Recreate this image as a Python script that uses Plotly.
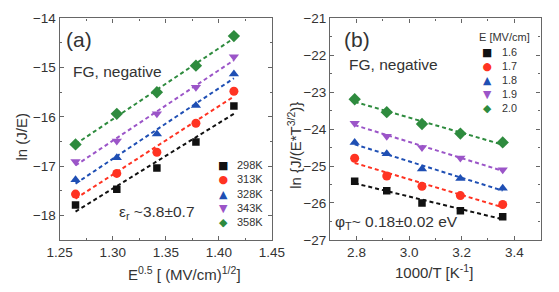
import numpy as np
import plotly.graph_objects as go

# ---------------- data ----------------
# Panel (a): ln(J/E) vs E^0.5
e_sqrt = [1.2649, 1.3038, 1.3416, 1.3784, 1.4142]
temps = ["298K", "313K", "328K", "343K", "358K"]
lnJE = {
    "298K": [-17.79, -17.47, -17.04, -16.51, -15.78],
    "313K": [-17.57, -17.15, -16.72, -16.13, -15.48],
    "328K": [-17.28, -16.83, -16.35, -15.77, -15.13],
    "343K": [-16.91, -16.49, -15.94, -15.40, -14.78],
    "358K": [-16.56, -15.94, -15.50, -14.96, -14.36],
}

# Panel (b): ln{J/(E*T^3/2)} vs 1000/T
inv_t = [2.793, 2.915, 3.049, 3.195, 3.356]
fields = ["1.6", "1.7", "1.8", "1.9", "2.0"]
lnJET = {
    "1.6": [-25.41, -25.67, -26.00, -26.21, -26.37],
    "1.7": [-24.79, -25.27, -25.55, -25.80, -26.04],
    "1.8": [-24.36, -24.67, -25.08, -25.34, -25.60],
    "1.9": [-23.84, -24.19, -24.50, -24.78, -25.10],
    "2.0": [-23.19, -23.54, -23.86, -24.12, -24.36],
}

colors = ["#111111", "#ff3322", "#1f4fb4", "#9b55c8", "#2e8b3e"]
symbols = ["square", "circle", "triangle-up", "triangle-down", "diamond"]
sizes = [7.5, 9, 9, 9, 9.5]
glyphs = ["■", "●", "▲", "▼", "◆"]

W, H = 559, 292
FONT = "Liberation Sans, Arial, sans-serif"
TXT = "#333333"


def px(x):
    return x / W


def py(y):
    return 1 - y / H


fig = go.Figure()

# panel (a)
for i, t in enumerate(temps):
    ys = lnJE[t]
    k, b = np.polyfit(e_sqrt, ys, 1)
    xf = [e_sqrt[0], e_sqrt[-1]]
    fig.add_trace(go.Scatter(
        x=xf, y=[k * v + b for v in xf], mode="lines",
        line=dict(color=colors[i], width=2, dash="4px,3px"),
        showlegend=False, hoverinfo="skip", xaxis="x", yaxis="y"))
for i, t in enumerate(temps):
    fig.add_trace(go.Scatter(
        x=e_sqrt, y=lnJE[t], mode="markers", name=t, showlegend=False,
        marker=dict(symbol=symbols[i], color=colors[i], size=sizes[i], line=dict(width=0)),
        xaxis="x", yaxis="y"))

# panel (b)
for i, f in enumerate(fields):
    ys = lnJET[f]
    k, b = np.polyfit(inv_t, ys, 1)
    xf = [inv_t[0], inv_t[-1]]
    fig.add_trace(go.Scatter(
        x=xf, y=[k * v + b for v in xf], mode="lines",
        line=dict(color=colors[i], width=2, dash="4px,3px"),
        showlegend=False, hoverinfo="skip", xaxis="x2", yaxis="y2"))
for i, f in enumerate(fields):
    fig.add_trace(go.Scatter(
        x=inv_t, y=lnJET[f], mode="markers", name=f, showlegend=False,
        marker=dict(symbol=symbols[i], color=colors[i], size=sizes[i], line=dict(width=0)),
        xaxis="x2", yaxis="y2"))

axis_common = dict(
    showgrid=False, zeroline=False, showline=True, linecolor="#666666", linewidth=1.3,
    mirror="allticks", ticks="inside", ticklen=4, tickwidth=1, tickcolor="#666666",
    tickfont=dict(family=FONT, size=13.5, color=TXT),
)

ya_dom = [py(245.5), py(12)]

fig.update_layout(
    width=W, height=H,
    margin=dict(l=0, r=0, t=0, b=0),
    paper_bgcolor="white", plot_bgcolor="white",
    font=dict(family=FONT, color=TXT),
    showlegend=False,
    xaxis=dict(axis_common, domain=[px(49), px(271.5)], range=[1.25, 1.45],
               dtick=0.05, tick0=1.25, tickformat=".2f", anchor="y",
               minor=dict(dtick=0.025, ticks="inside", ticklen=2, tickcolor="#666666")),
    yaxis=dict(axis_common, domain=ya_dom, range=[-18.5, -14], dtick=1, tick0=-18,
               anchor="x",
               minor=dict(dtick=0.5, ticks="inside", ticklen=2, tickcolor="#666666")),
    xaxis2=dict(axis_common, domain=[px(332.7), px(553.3)], range=[2.7, 3.5],
                dtick=0.2, tick0=2.8, tickformat=".1f", anchor="y2",
                minor=dict(dtick=0.1, ticks="inside", ticklen=2, tickcolor="#666666")),
    yaxis2=dict(axis_common, domain=ya_dom, range=[-27, -21], dtick=1, tick0=-27,
                anchor="x2",
                minor=dict(dtick=0.5, ticks="inside", ticklen=2, tickcolor="#666666")),
)

ann = []


def add_text(text, x, y, size, xanchor="left", angle=0, color=TXT, family=FONT,
             align="center", pad=1):
    ann.append(dict(text=text, x=px(x), y=py(y), xref="paper", yref="paper",
                    xanchor=xanchor, yanchor="middle", showarrow=False, textangle=angle,
                    align=align, borderpad=pad,
                    font=dict(family=family, size=size, color=color)))


add_text("(a)", 54, 34, 21)
add_text("FG, negative", 61, 68, 15.5)
add_text("ε<sub>r</sub> ~3.8±0.7", 109, 217, 15.5)
add_text("(b)", 345, 34, 21)
add_text("FG, negative", 350, 61, 15.5)
add_text("φ<sub>T</sub>~ 0.18±0.02 eV", 336, 227, 15.5)
# axis titles
add_text("ln (J/E)", 9, 137, 15, xanchor="center", angle=-90)
add_text("ln {J/(E*T<sup>3/2</sup>)}", 295, 146, 15, xanchor="center", angle=-90)
add_text("E<sup>0.5</sup> [ (MV/cm)<sup>1/2</sup>]", 180, 281, 15, xanchor="center")
add_text("1000/T [K<sup>-1</sup>]", 442, 279, 15, xanchor="center")

# legends (text-based keys, one block per column)
key_col = "<br>".join(f"<span style='color:{c}'>{g}</span>" for c, g in zip(colors, glyphs))
# panel (a): line spacing 14.3 px -> font 11
add_text(key_col, 220, 168.3 + 2 * 14.3, 11, xanchor="center", family="DejaVu Sans", pad=0)
add_text("<br>".join(temps), 234, 168.3 + 2 * 14.3, 11.5 * 0 + 11, align="left", pad=0)
# panel (b): line spacing 14 px -> font 10.8
add_text("E [MV/cm]", 488, 32, 11, pad=0)
add_text(key_col, 497, 49 + 2 * 14, 10.8, xanchor="center", family="DejaVu Sans", pad=0)
add_text("<br>".join(fields), 512, 49 + 2 * 14, 10.8, align="left", pad=0)

fig.update_layout(annotations=ann)

fig.write_html("out.html")
